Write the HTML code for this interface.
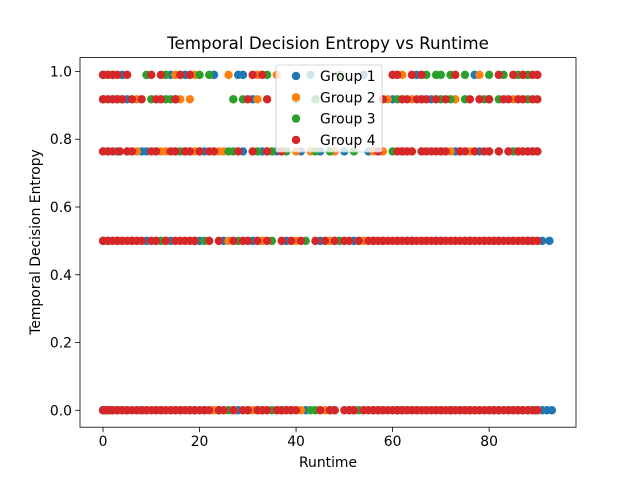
<!DOCTYPE html>
<html><head><meta charset="utf-8"><style>
body{margin:0;background:#fff}
svg{display:block;font-family:"DejaVu Sans","Liberation Sans",sans-serif}
</style></head><body>
<svg id="chart" width="640" height="480" viewBox="0 0 640 480" xmlns="http://www.w3.org/2000/svg">
<rect x="0" y="0" width="640" height="480" fill="#fff"/>
<text x="328" y="49" font-size="16.7" text-anchor="middle">Temporal Decision Entropy vs Runtime</text>
<g id="marks"></g>
<g id="axes"></g>
<text x="328" y="467" font-size="13.9" text-anchor="middle">Runtime</text>
<text x="0" y="0" font-size="13.9" text-anchor="middle" transform="translate(40,242) rotate(-90)">Temporal Decision Entropy</text>
<g id="legend"></g>
</svg>
<script>
const groups = ["Group 1","Group 2","Group 3","Group 4"];
const colors = ["#1f77b4","#ff7f0e","#2ca02c","#d62728"];
const levels = [0, 0.5, 0.764, 0.918, 0.99];
const xTicks = [0,20,40,60,80];
const yTicks = [0.0,0.2,0.4,0.6,0.8,1.0];
const g1_l0 = [0,2,5,8,12,15,19,24,28,33,37,42,47,52,57,61,65,70,74,78,82,86,89,91,92,93];
const g2_l0 = [1,4,9,14,18,23,27,31,36,41,46,51,56,60,64,69,73,77,81,85,88,90];
const g3_l0 = [0.5,3,7,11,16,21,26,30,35,39,43,44,48,53,58,62,67,72,76,80,84,87,89.5];
const g4_l0 = [0,1,1.5,2,3,4,5,6,7,8,9,10,11,12,13,14,15,16,17,18,19,20,21,22,24,25,27,29,30,32,33,34,36,37,38,39,40,45,47,48,50,51,52,54,55,56,57,58,59,60,61,62,63,64,65,66,67,68,69,70,71,72,73,74,75,76,77,78,79,80,81,82,83,84,85,86,87,88,89,90];
const g1_l1 = [0,3,9,14,20,25,31,38,45,52,58,64,70,76,82,88,91,92.5];
const g2_l1 = [2,7,13,19,26,33,40,47,54,61,67,73,79,85,89];
const g3_l1 = [1,6,12,21,28,35,42,49,56,63,69,75,81,87];
const g4_l1 = [0,1,2,3,4,5,6,7,8,10,11,13,15,16,17,18,19,22,24,27,29,30,32,34,37,39,41,44,46,48,50,51,53,55,56,57,58,59,60,61,62,63,64,65,66,67,68,69,70,71,72,73,74,75,76,77,78,79,80,81,82,83,84,85,86,87,88,89,90];
const g1_l2 = [3,8,9,15,20,21,29,33,36,41,45,50,55,62,70,73,78,84,89];
const g2_l2 = [0,6,7,12,13,19,24,25,34,40,43,48,56,58,64,72,76,80,86];
const g3_l2 = [1,5,11,16,17,26,27,32,35,38,44,47,52,60,66,74,82,85,88,90];
const g4_l2 = [0,1,2,3.5,5,6,10,11,14,15,17,18,20,22,23,28,31,34,37,57,61,62,63,64,66,67,68,69,70,71,74,75,77,79,80,82,84,86,87,88,89,90];
const g1_l3 = [2,5,15,31,60,68,80];
const g2_l3 = [7,16,18,27,32,59,64,73,85];
const g3_l3 = [0,3,4,10,13,14,27,29,40,44,61,70,72,75,79,82,88];
const g4_l3 = [0,1,2,3,4,6,8,11,12,15,30,34,58,62,63,65,66,67,69,71,76,78,80,83,84,86,87,89,90];
const g1_l4 = [4,14,17,23,28,29,43,54,65,77];
const g2_l4 = [15,19,26,32,36,62,78];
const g3_l4 = [0,2,9,13,20,22,34,49,67,69,70,72,75,80,83,86,88];
const g4_l4 = [0,1,2,3,5,10,12,16,18,31,33,60,61,64,66,73,82,85,87,89,90];
const series = [
  [g1_l0,g1_l1,g1_l2,g1_l3,g1_l4],
  [g2_l0,g2_l1,g2_l2,g2_l3,g2_l4],
  [g3_l0,g3_l1,g3_l2,g3_l3,g3_l4],
  [g4_l0,g4_l1,g4_l2,g4_l3,g4_l4]
];
const NS="http://www.w3.org/2000/svg";
const L=80,R=576,T=57.6,B=427.2;
const xmin=-4.77,xmax=98.0,ymin=-0.05,ymax=1.041;
const sx=v=>L+(v-xmin)/(xmax-xmin)*(R-L);
const sy=v=>B-(v-ymin)/(ymax-ymin)*(B-T);
function mk(tag,attrs,parent){const e=document.createElementNS(NS,tag);for(const k in attrs)e.setAttribute(k,attrs[k]);parent.appendChild(e);return e;}
const marks=document.getElementById('marks');
series.forEach((grp,gi)=>{
  grp.forEach((xs,li)=>{
    xs.forEach(x=>{
      const c=mk('circle',{cx:sx(x),cy:sy(levels[li]),r:4.2,fill:colors[gi]},marks);
      
      
    });
  });
});
const axes=document.getElementById('axes');
const frame=mk('rect',{x:L,y:T,width:R-L,height:B-T,fill:'none',stroke:'#000','stroke-width':0.8},axes);


xTicks.forEach(t=>{
  const x=sx(t);
  const l=mk('line',{x1:x,x2:x,y1:B,y2:B+4.9,stroke:'#000','stroke-width':0.8},axes);
  
  
  const tx=mk('text',{x:x,y:B+19,'font-size':13.9,'text-anchor':'middle'},axes);
  tx.textContent=t;
  
  
});
yTicks.forEach(t=>{
  const y=sy(t);
  const l=mk('line',{x1:L-4.9,x2:L,y1:y,y2:y,stroke:'#000','stroke-width':0.8},axes);
  
  
  const tx=mk('text',{x:L-8,y:y+5,'font-size':13.9,'text-anchor':'end'},axes);
  tx.textContent=t.toFixed(1);
  
  
});
const leg=document.getElementById('legend');
const lb=mk('rect',{x:276,y:65,width:106,height:87,rx:2,fill:'#fff','fill-opacity':0.8,stroke:'#ccc','stroke-width':0.8},leg);


groups.forEach((g,i)=>{
  const y=76+i*21.3;
  const c=mk('circle',{cx:296,cy:y,r:4.2,fill:colors[i]},leg);
  
  
  const t=mk('text',{x:320,y:y+5,'font-size':13.9},leg);
  t.textContent=g;
  
  
});
</script>
</body></html>
